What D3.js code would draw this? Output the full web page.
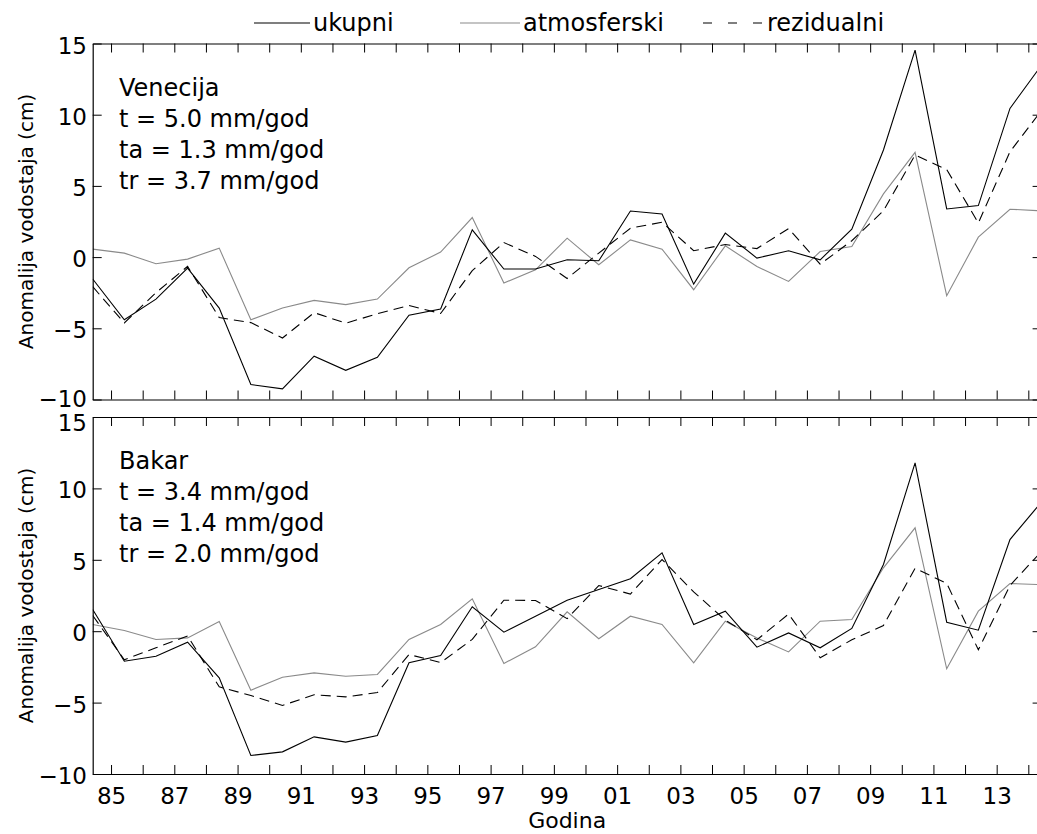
<!DOCTYPE html>
<html>
<head>
<meta charset="utf-8">
<script src="https://cdn.jsdelivr.net/npm/d3@7/dist/d3.min.js"></script>
<style>
  html, body { margin: 0; padding: 0; background: #fff; }
  svg { display: block; font-family: "DejaVu Sans", sans-serif; }
</style>
</head>
<body>
<svg id="chart" width="1037" height="834"></svg>
<script>
// ---------------- DATA ----------------
const years = d3.range(1984, 2015);

const venecijaUkupni = [-1.54, -4.4, -2.95, -0.77, -3.58, -8.95, -9.25, -6.96, -7.95, -7.03,
  -4.08, -3.65, 1.91, -0.84, -0.84, -0.19, -0.26, 3.24, 3.03, -1.9,
  1.68, -0.07, 0.44, -0.19, 1.96, 7.52, 14.53, 3.38, 3.62, 10.44, 13.49];
const venecijaAtmosferski = [0.56, 0.28, -0.47, -0.14, 0.63, -4.4, -3.58, -3.04, -3.34, -2.95,
  -0.75, 0.35, 2.78, -1.82, -0.89, 1.33, -0.54, 1.21, 0.56, -2.29,
  0.79, -0.66, -1.71, 0.39, 0.74, 4.44, 7.36, -2.71, 1.4, 3.36, 3.25];
const venecijaRezidualni = [-2.08, -4.62, -2.5, -0.65, -4.25, -4.6, -5.68, -3.9, -4.64, -3.98,
  -3.4, -3.96, -0.95, 1.02, 0.05, -1.5, 0.28, 2.03, 2.45, 0.45,
  0.88, 0.6, 2.0, -0.5, 1.15, 3.25, 7.17, 6.15, 2.4, 7.4, 10.3];

const bakarUkupni = [1.52, -2.1, -1.75, -0.77, -3.27, -8.7, -8.45, -7.4, -7.77, -7.3,
  -2.21, -1.7, 1.71, -0.07, 1.05, 2.17, 2.92, 3.67, 5.49, 0.47,
  1.4, -1.12, -0.12, -1.16, 0.19, 4.67, 11.79, 0.63, 0.07, 6.42, 9.06];
const bakarAtmosferski = [0.47, 0.05, -0.58, -0.47, 0.68, -4.13, -3.22, -2.92, -3.15, -3.03,
  -0.58, 0.47, 2.27, -2.26, -1.09, 1.36, -0.53, 1.05, 0.47, -2.21,
  0.7, -0.47, -1.45, 0.7, 0.82, 4.44, 7.24, -2.63, 1.4, 3.34, 3.26];
const bakarRezidualni = [1.1, -2.0, -1.16, -0.33, -3.9, -4.5, -5.2, -4.45, -4.6, -4.3,
  -1.63, -2.2, -0.57, 2.17, 2.15, 0.88, 3.2, 2.6, 5.02, 2.75,
  0.78, -0.6, 1.2, -1.86, -0.6, 0.4, 4.4, 3.35, -1.3, 3.2, 5.6];

const xTickYears = d3.range(1985, 2015);
const xTickLabels = ["85","87","89","91","93","95","97","99","01","03","05","07","09","11","13"];
const yTickValues = [-10, -5, 0, 5, 10, 15];
const yTickLabels = ["\u221210", "\u22125", "0", "5", "10", "15"];

const panels = [
  { name: "Venecija", lines: ["Venecija", "t = 5.0 mm/god", "ta = 1.3 mm/god", "tr = 3.7 mm/god"],
    ukupni: venecijaUkupni, atmosferski: venecijaAtmosferski, rezidualni: venecijaRezidualni },
  { name: "Bakar", lines: ["Bakar", "t = 3.4 mm/god", "ta = 1.4 mm/god", "tr = 2.0 mm/god"],
    ukupni: bakarUkupni, atmosferski: bakarAtmosferski, rezidualni: bakarRezidualni }
];

const legendItems = [
  { label: "ukupni", key: "ukupni" },
  { label: "atmosferski", key: "atmosferski" },
  { label: "rezidualni", key: "rezidualni" }
];

// ---------------- STYLE / LAYOUT ----------------
const styles = {
  ukupni: { stroke: "#000", width: 1.1, dash: null, legendDash: null },
  atmosferski: { stroke: "#8a8a8a", width: 1.1, dash: null, legendDash: null },
  rezidualni: { stroke: "#000", width: 1.1, dash: "10,6", legendDash: "9,16" }
};
const left = 92.7, right = 1041.6;
const panelBoxes = [ { top: 43.5, bottom: 399.5 }, { top: 417, bottom: 774 } ];
const xOffset = 0.42; // data sit at mid-year-ish positions

const svg = d3.select("#chart");

const x = d3.scaleLinear().domain([1984 + xOffset, 2014 + xOffset]).range([left, right]);

svg.append("defs").selectAll("clipPath").data(panelBoxes).join("clipPath")
  .attr("id", (d, i) => "clip" + i)
  .append("rect")
  .attr("x", left).attr("y", d => d.top)
  .attr("width", right - left).attr("height", d => d.bottom - d.top);

panels.forEach((p, i) => {
  const box = panelBoxes[i];
  const y = d3.scaleLinear().domain([-10, 15]).range([box.bottom, box.top]);
  const g = svg.append("g");

  // lines
  const line = d3.line().x((d, k) => x(years[k] + xOffset)).y(d => y(d));
  const lg = g.append("g").attr("clip-path", `url(#clip${i})`);
  ["atmosferski", "rezidualni", "ukupni"].forEach(key => {
    const s = styles[key];
    lg.append("path")
      .datum(p[key])
      .attr("d", line)
      .attr("fill", "none")
      .attr("stroke", s.stroke)
      .attr("stroke-width", s.width)
      .attr("stroke-linejoin", "miter")
      .attr("stroke-dasharray", s.dash);
  });

  // axes
  const axB = d3.axisBottom(x).tickValues(xTickYears).tickSizeInner(-9).tickSizeOuter(0)
    .tickFormat(d => {
      if (i === 0) return "";
      const lbl = String(d).slice(2);
      return xTickLabels.includes(lbl) && (d % 2 === 1) ? lbl : "";
    });
  const axT = d3.axisTop(x).tickValues(xTickYears).tickSizeInner(-9).tickSizeOuter(0).tickFormat("");
  const axL = d3.axisLeft(y).tickValues(yTickValues).tickSizeInner(-9).tickSizeOuter(0)
    .tickFormat((d, k) => yTickLabels[k]);
  const axR = d3.axisRight(y).tickValues(yTickValues).tickSizeInner(-9).tickSizeOuter(0).tickFormat("");

  const gB = g.append("g").attr("transform", `translate(0,${box.bottom})`).call(axB);
  const gT = g.append("g").attr("transform", `translate(0,${box.top})`).call(axT);
  const gL = g.append("g").attr("transform", `translate(${left},0)`).call(axL);
  const gR = g.append("g").attr("transform", `translate(${right},0)`).call(axR);

  [gB, gT, gL, gR].forEach(a => {
    a.selectAll("path.domain").attr("stroke", "#000").attr("stroke-width", 1.2);
    a.selectAll(".tick line").attr("stroke", "#000").attr("stroke-width", 1);
    a.selectAll("text").attr("font-family", "DejaVu Sans").attr("font-size", 23).attr("fill", "#000");
  });
  gB.selectAll(".tick text").attr("y", 30).attr("dy", 0);
  gL.selectAll(".tick text").attr("x", -5.7)
    .attr("dy", d => {
      if (i === 0 && d === -10) return 6.5;
      if (i === 1 && d === 15) return 13;
      return 9.5;
    });

  // annotation
  const ann = g.append("text").attr("font-size", 24).attr("fill", "#000");
  p.lines.forEach((t, k) => {
    ann.append("tspan").attr("x", 119).attr("y", box.top + 52 + k * 31).text(t);
  });

  // y title
  g.append("text")
    .attr("transform", `translate(33,${(box.top + box.bottom) / 2}) rotate(-90)`)
    .attr("text-anchor", "middle")
    .attr("font-size", 20)
    .attr("fill", "#000")
    .text("Anomalija vodostaja (cm)");
});

// x title
svg.append("text")
  .attr("x", (left + right) / 2).attr("y", 828)
  .attr("text-anchor", "middle").attr("font-size", 22).attr("fill", "#000")
  .text("Godina");

// legend
const legendPos = [ { x0: 254, x1: 310, tx: 313 }, { x0: 460, x1: 520, tx: 523 }, { x0: 703, x1: 764, tx: 767 } ];
const lgd = svg.append("g");
legendItems.forEach((it, k) => {
  const s = styles[it.key], pos = legendPos[k];
  lgd.append("line").attr("x1", pos.x0).attr("x2", pos.x1).attr("y1", 23).attr("y2", 23)
    .attr("stroke", s.stroke).attr("stroke-width", s.width).attr("stroke-dasharray", s.legendDash);
  lgd.append("text").attr("x", pos.tx).attr("y", 31).attr("font-size", 24).attr("fill", "#000").text(it.label);
});
</script>
</body>
</html>
